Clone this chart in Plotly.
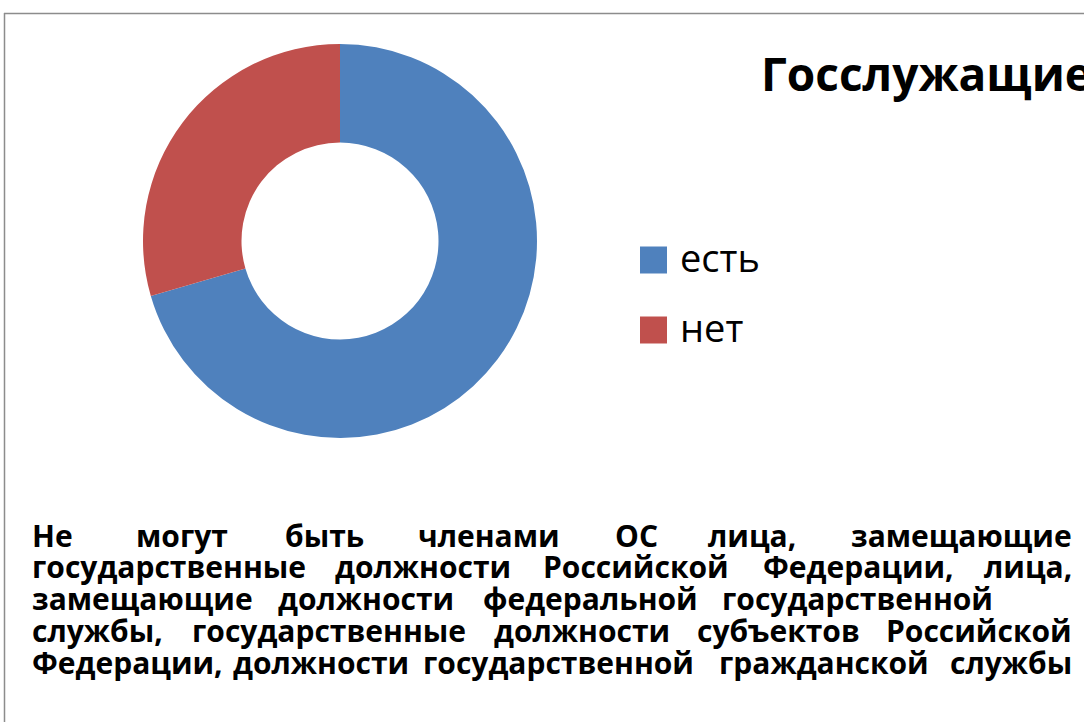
import plotly.graph_objects as go

W, H = 1084, 722

labels = ["есть", "нет"]
values = [70.5, 29.5]
colors = ["#4F81BD", "#C0504D"]
title_text = "Госслужащие"

body_lines = [
    ["Не", "могут", "быть", "членами", "ОС", "лица,", "замещающие"],
    ["государственные", "должности", "Российской", "Федерации,", "лица,"],
    ["замещающие", "должности", "федеральной", "государственной"],
    ["службы,", "государственные", "должности", "субъектов", "Российской"],
    ["Федерации,", "должности", "государственной", "гражданской", "службы"],
]
# word anchor x positions (px) and line y centres (px)
body_x = [
    [30, 182, 324, 489, 636, 752, 1074],
    [30, 423, 636, 858, 1074],
    [30, 366, 590, 995],
    [30, 329, 582, 778, 1074],
    [30, 321, 558, 824, 1074],
]
body_y = [537, 568, 600, 632, 664]


def px(x):
    return x / W


def py(y):
    return 1 - y / H


fig = go.Figure()
fig.add_trace(go.Pie(
    labels=labels, values=values, hole=0.5, sort=False,
    direction="clockwise", rotation=0,
    marker=dict(colors=colors, line=dict(width=0)),
    textinfo="none", hoverinfo="label+value", showlegend=False,
    domain=dict(x=[px(143), px(537)], y=[py(438), py(44)]),
))

annotations = []
shapes = []

# border
shapes.append(dict(type="line", xref="paper", yref="paper", x0=px(4), x1=1.0,
                   y0=py(13.5), y1=py(13.5), line=dict(color="#8c8c8c", width=1.5)))
shapes.append(dict(type="line", xref="paper", yref="paper", x0=px(4.5), x1=px(4.5),
                   y0=py(13), y1=0.0, line=dict(color="#8c8c8c", width=1.5)))

# title
annotations.append(dict(text="<b>" + title_text + "</b>", xref="paper", yref="paper",
                        x=px(759), y=py(73), xanchor="left", yanchor="middle",
                        showarrow=False, font=dict(family="Open Sans", size=46, color="black")))

# custom legend
leg_y = [260, 330]
for lab, col, yy in zip(labels, colors, leg_y):
    shapes.append(dict(type="rect", xref="paper", yref="paper",
                       x0=px(640), x1=px(667), y0=py(yy + 13.5), y1=py(yy - 13.5),
                       fillcolor=col, line=dict(width=0)))
    annotations.append(dict(text=lab, xref="paper", yref="paper", x=px(678), y=py(yy - 3),
                            xanchor="left", yanchor="middle", showarrow=False,
                            font=dict(family="Open Sans", size=38, color="black")))

# justified body text
for words, xs, yy in zip(body_lines, body_x, body_y):
    n = len(words)
    for i, (wd, xx) in enumerate(zip(words, xs)):
        if i == 0:
            anc = "left"
        elif i == n - 1:
            anc = "right"
        else:
            anc = "center"
        annotations.append(dict(text="<b>" + wd + "</b>", xref="paper", yref="paper",
                                x=px(xx), y=py(yy - 2), xanchor=anc, yanchor="middle",
                                showarrow=False,
                                font=dict(family="Open Sans", size=30, color="black")))

fig.update_layout(
    width=W, height=H, margin=dict(l=0, r=0, t=0, b=0),
    paper_bgcolor="white", plot_bgcolor="white",
    showlegend=False, annotations=annotations, shapes=shapes,
)
fig.write_html("out.html", config={"displayModeBar": False},
               post_script="document.body.style.margin='0';document.body.style.overflow='hidden';")
